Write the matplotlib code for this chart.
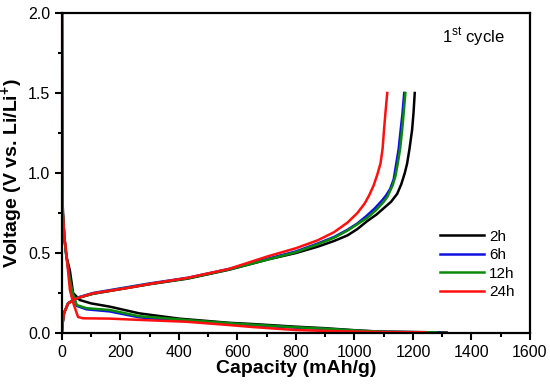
import numpy as np
import matplotlib
matplotlib.use("Agg")
import matplotlib.pyplot as plt
from matplotlib.ticker import MultipleLocator

plt.rcParams['font.family'] = ['Liberation Sans', 'DejaVu Sans']
plt.rcParams['mathtext.fontset'] = 'custom'
plt.rcParams['mathtext.rm'] = 'Liberation Sans'
plt.rcParams['mathtext.bf'] = 'Liberation Sans:bold'

labels = ["2h", "6h", "12h", "24h"]
colors = ["black", "#1010e0", "#0a8a0a", "#ff1010"]

# discharge (lithiation) curves
dis_cap_2h = [0, 1, 3, 8, 15, 27, 38, 61, 100, 163, 264, 400, 570, 654, 796, 900, 1021, 1100, 1200, 1315]
dis_v_2h = [2.0, 0.95, 0.75, 0.6, 0.48, 0.39, 0.25, 0.206, 0.185, 0.165, 0.123, 0.09, 0.064, 0.056, 0.04, 0.03, 0.015, 0.008, 0.005, 0.003]
dis_cap_6h = [0, 1, 3, 8, 15, 27, 35, 50, 84, 163, 264, 315, 450, 600, 796, 900, 1021, 1100, 1290]
dis_v_6h = [2.0, 0.95, 0.75, 0.6, 0.48, 0.33, 0.26, 0.17, 0.148, 0.135, 0.098, 0.09, 0.072, 0.054, 0.034, 0.025, 0.013, 0.008, 0.004]
dis_cap_12h = [0, 1, 3, 8, 15, 27, 35, 50, 84, 163, 264, 315, 450, 600, 796, 900, 1021, 1100, 1281]
dis_v_12h = [2.0, 0.95, 0.75, 0.6, 0.48, 0.33, 0.26, 0.175, 0.155, 0.144, 0.105, 0.098, 0.078, 0.058, 0.036, 0.027, 0.014, 0.008, 0.004]
dis_cap_24h = [0, 1, 3, 8, 16, 27, 38, 55, 72, 163, 264, 428, 569, 654, 796, 900, 1034, 1100, 1241]
dis_v_24h = [2.0, 0.95, 0.75, 0.6, 0.48, 0.27, 0.19, 0.10, 0.092, 0.09, 0.082, 0.07, 0.05, 0.037, 0.019, 0.013, 0.008, 0.006, 0.005]

# charge (delithiation) curves
chg_cap_2h = [0, 2, 7, 21, 50, 106, 219, 300, 430, 570, 705, 800, 875, 930, 976, 1010, 1044, 1075,
              1100, 1125, 1146, 1160, 1172, 1180, 1188, 1197, 1202, 1206]
chg_v_2h = [0.01, 0.06, 0.125, 0.185, 0.217, 0.245, 0.28, 0.305, 0.34, 0.395, 0.46, 0.5, 0.54, 0.575, 0.61, 0.65, 0.70, 0.74,
            0.78, 0.82, 0.87, 0.93, 1.0, 1.06, 1.15, 1.27, 1.38, 1.5]
chg_cap_6h = [0, 2, 7, 21, 50, 106, 219, 300, 430, 570, 705, 800, 875, 930, 976, 1010, 1040, 1070,
              1095, 1108, 1122, 1134, 1143, 1151, 1158, 1164, 1170]
chg_v_6h = [0.01, 0.06, 0.125, 0.187, 0.22, 0.25, 0.285, 0.31, 0.345, 0.40, 0.465, 0.51, 0.56, 0.60, 0.645, 0.685, 0.73, 0.78,
            0.83, 0.86, 0.9, 0.96, 1.06, 1.15, 1.27, 1.37, 1.5]
chg_cap_12h = [0, 2, 7, 21, 50, 106, 219, 300, 430, 570, 705, 800, 875, 930, 976, 1010, 1044, 1075,
               1100, 1112, 1130, 1140, 1148, 1156, 1163, 1168, 1174]
chg_v_12h = [0.01, 0.06, 0.125, 0.185, 0.217, 0.246, 0.282, 0.307, 0.342, 0.397, 0.46, 0.505, 0.555, 0.595, 0.64, 0.68, 0.72, 0.77,
             0.82, 0.85, 0.92, 0.98, 1.06, 1.15, 1.27, 1.37, 1.5]
chg_cap_24h = [0, 2, 7, 21, 50, 106, 219, 300, 430, 570, 705, 800, 875, 930, 976, 1010, 1035, 1050,
               1065, 1078, 1089, 1096, 1101, 1106, 1112]
chg_v_24h = [0.01, 0.06, 0.125, 0.185, 0.217, 0.248, 0.28, 0.307, 0.345, 0.40, 0.48, 0.53, 0.58, 0.63, 0.69, 0.75, 0.81, 0.86,
             0.92, 0.99, 1.06, 1.15, 1.27, 1.38, 1.5]

dis_caps = [dis_cap_2h, dis_cap_6h, dis_cap_12h, dis_cap_24h]
dis_vs = [dis_v_2h, dis_v_6h, dis_v_12h, dis_v_24h]
chg_caps = [chg_cap_2h, chg_cap_6h, chg_cap_12h, chg_cap_24h]
chg_vs = [chg_v_2h, chg_v_6h, chg_v_12h, chg_v_24h]

fig = plt.figure(figsize=(5.5, 3.91), dpi=100)
ax = fig.add_axes([0.1127, 0.1483, 0.8509, 0.8185])

for i in range(4):
    ax.plot(dis_caps[i], dis_vs[i], color=colors[i], lw=1.8, label=labels[i], solid_joinstyle='round')
    ax.plot(chg_caps[i], chg_vs[i], color=colors[i], lw=1.8, solid_joinstyle='round')

ax.set_xlim(0, 1600)
ax.set_ylim(0, 2.0)
ax.xaxis.set_major_locator(MultipleLocator(200))
ax.xaxis.set_minor_locator(MultipleLocator(100))
ax.yaxis.set_major_locator(MultipleLocator(0.5))
ax.yaxis.set_minor_locator(MultipleLocator(0.25))
ax.tick_params(which='both', direction='out', width=1.5, labelsize=11.5, top=False, right=False)
ax.tick_params(which='major', length=5)
ax.tick_params(which='minor', length=3)
for sp in ax.spines.values():
    sp.set_linewidth(1.6)

ax.set_xlabel("Capacity (mAh/g)", fontsize=14, fontweight='bold')
ax.set_ylabel(r"Voltage (V vs. Li/Li$^{\mathbf{+}}$)", fontsize=14, fontweight='bold')
ax.xaxis.set_label_coords(0.5, -0.085)
ax.yaxis.set_label_coords(-0.076, 0.5)

ax.text(0.812, 0.925, r"1$^{\mathrm{st}}$ cycle", transform=ax.transAxes, fontsize=12, va='center', ha='left')

ax.legend(loc='center left', bbox_to_anchor=(0.8077, 0.214), frameon=False, fontsize=11,
          handlelength=2.9, handletextpad=0.3, labelspacing=0.3, borderpad=0, borderaxespad=0)

plt.savefig("out.png", dpi=100)
